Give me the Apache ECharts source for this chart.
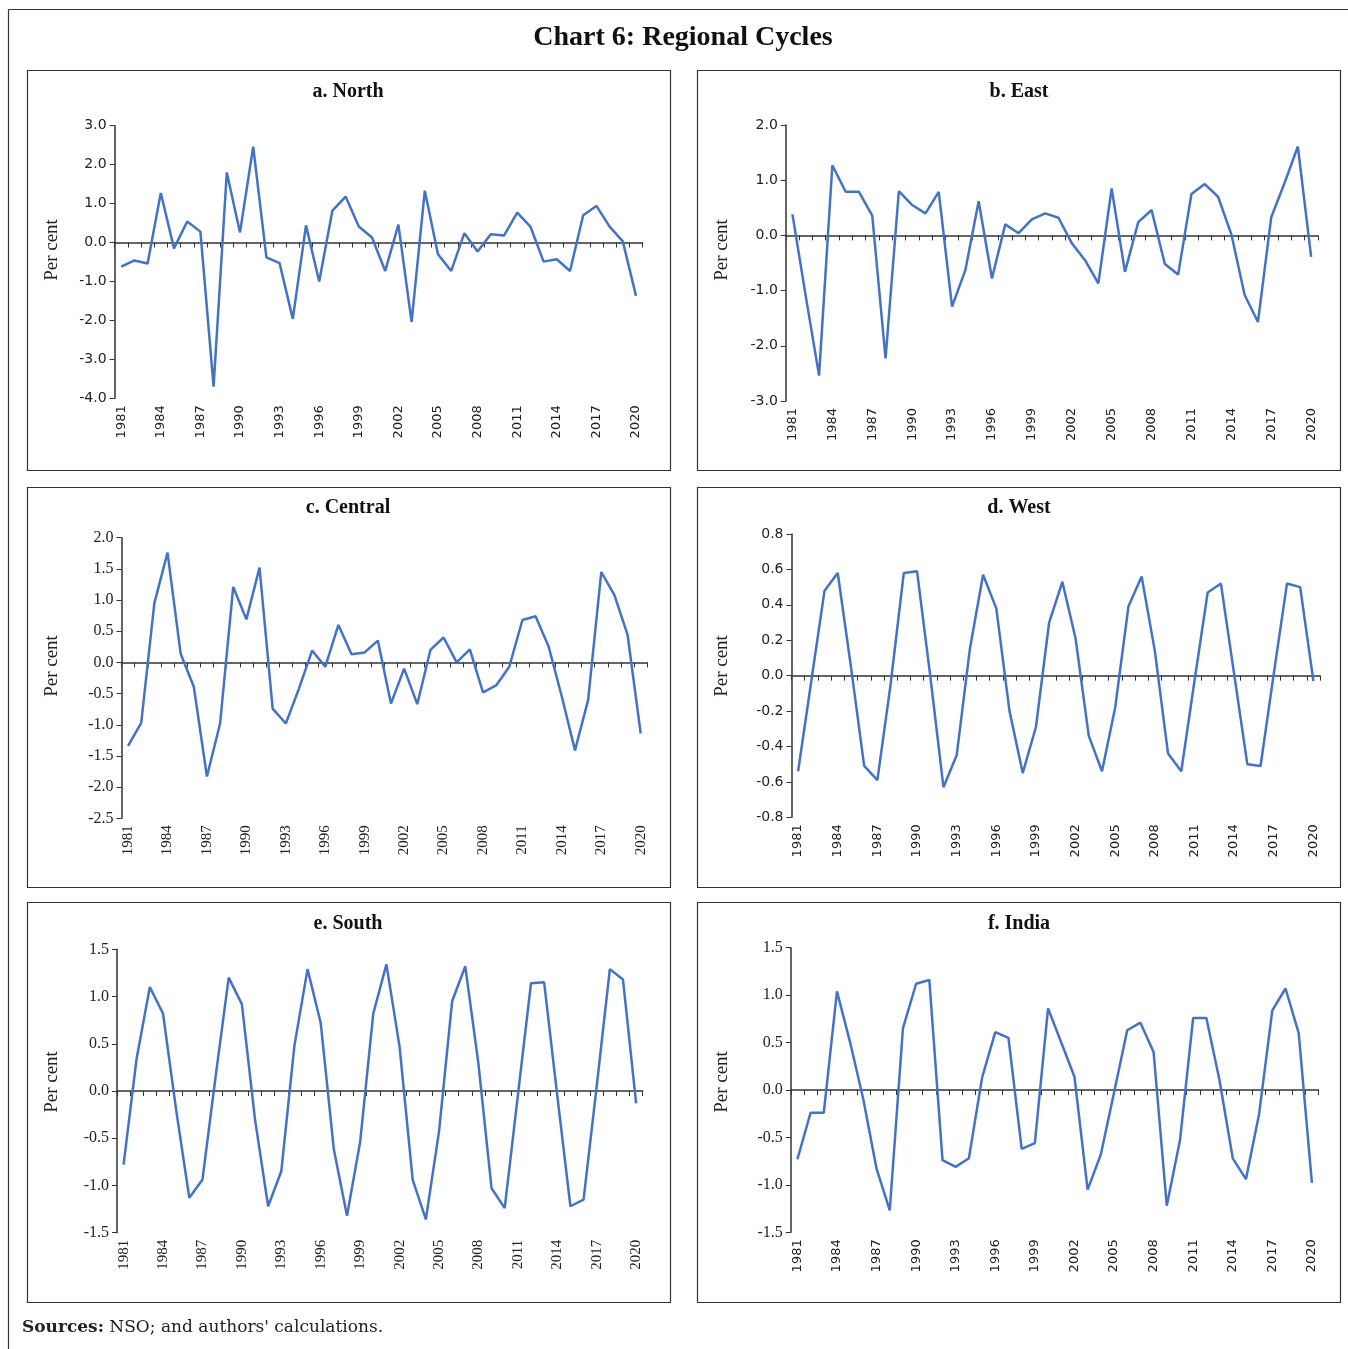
<!DOCTYPE html>
<html>
<head>
<meta charset="utf-8">
<script src="https://cdn.jsdelivr.net/npm/echarts@6/dist/echarts.min.js"></script>
<style>
  html, body { margin: 0; padding: 0; background: #fff; }
  #chart { width: 1348px; height: 1349px; }
</style>
</head>
<body>
<div id="chart"></div>
<script>
// ---------- DATA ----------
const years = [];
for (let y = 1981; y <= 2020; y++) years.push(String(y));

const north = [-0.62,-0.46,-0.54,1.27,-0.15,0.54,0.28,-3.70,1.80,0.26,
  2.46,-0.38,-0.53,-1.96,0.44,-1.00,0.82,1.18,0.41,0.13,
  -0.73,0.46,-2.04,1.33,-0.30,-0.73,0.24,-0.23,0.21,0.18,
  0.77,0.41,-0.49,-0.43,-0.73,0.70,0.94,0.41,0.03,-1.37];

const east = [0.38,-1.10,-2.54,1.27,0.79,0.79,0.36,-2.23,0.80,0.55,
  0.40,0.79,-1.29,-0.63,0.62,-0.78,0.20,0.04,0.29,0.40,
  0.32,-0.14,-0.45,-0.87,0.85,-0.66,0.24,0.46,-0.52,-0.71,
  0.75,0.93,0.70,0.02,-1.08,-1.57,0.33,0.95,1.61,-0.39];

const central = [-1.34,-0.97,0.95,1.76,0.14,-0.39,-1.83,-0.98,1.21,0.69,
  1.52,-0.74,-0.98,-0.42,0.19,-0.07,0.60,0.13,0.16,0.35,
  -0.66,-0.10,-0.67,0.20,0.40,0.00,0.21,-0.48,-0.37,-0.07,
  0.68,0.74,0.25,-0.55,-1.41,-0.60,1.45,1.08,0.44,-1.14];

const west = [-0.54,-0.03,0.48,0.58,0.05,-0.51,-0.59,-0.05,0.58,0.59,
  0.00,-0.63,-0.45,0.15,0.57,0.38,-0.20,-0.55,-0.29,0.30,
  0.53,0.21,-0.34,-0.54,-0.18,0.39,0.56,0.14,-0.44,-0.54,
  -0.03,0.47,0.52,0.01,-0.50,-0.51,0.01,0.52,0.50,-0.03];

const south = [-0.78,0.35,1.10,0.82,-0.20,-1.13,-0.94,0.15,1.20,0.92,
  -0.30,-1.22,-0.85,0.48,1.29,0.72,-0.62,-1.32,-0.54,0.82,
  1.34,0.47,-0.94,-1.36,-0.43,0.95,1.32,0.29,-1.03,-1.24,
  -0.05,1.14,1.15,-0.05,-1.22,-1.15,0.05,1.29,1.18,-0.13];

const india = [-0.73,-0.24,-0.24,1.04,0.50,-0.10,-0.83,-1.27,0.65,1.12,
  1.16,-0.74,-0.81,-0.72,0.13,0.61,0.55,-0.62,-0.56,0.86,
  0.50,0.14,-1.05,-0.68,-0.03,0.63,0.71,0.40,-1.22,-0.53,
  0.76,0.76,0.10,-0.72,-0.94,-0.25,0.84,1.07,0.60,-0.98];

const panelTitles = ['a. North','b. East','c. Central','d. West','e. South','f. India'];
const seriesData = [north, east, central, west, south, india];
const yMins = [-4, -3, -2.5, -0.8, -1.5, -1.5];
const yMaxs = [3, 2, 2, 0.8, 1.5, 1.5];
const yIntervals = [1, 1, 0.5, 0.2, 0.5, 0.5];

// ---------- LAYOUT ----------
const SANS = '"DejaVu Sans", Verdana, sans-serif';
const SERIF = '"Liberation Serif", "Times New Roman", serif';
const WSERIF = '"DejaVu Serif", "Liberation Serif", serif';
const grids = [
  {left:114.6, top:125.7, width:528, height:272.6},
  {left:785.8, top:125,   width:532, height:276},
  {left:121.5, top:537.7, width:525.8, height:280.6},
  {left:791.5, top:534,   width:528.5, height:283.3},
  {left:117,   top:949.3, width:525.7, height:283.4},
  {left:790.8, top:947.7, width:527.7, height:284.6}
];
const yFonts = [SANS, SANS, SERIF, SANS, SERIF, SERIF];
const xFonts = [SANS, SANS, SERIF, SANS, SERIF, SANS];
const boxes = [
  [27,70,643,400],[697,70,643,400],
  [27,487,643,400],[697,487,643,400],
  [27,902,643,400],[697,902,643,400]
];
const titlePos = [[348,92],[1019,92],[348,508],[1019,508],[348,924],[1019,924]];
const perCentPos = [[52,250],[722,250],[52,666],[722,666],[52,1082],[722,1082]];

const option = {
  animation: false,
  backgroundColor: '#fff',
  grid: grids.map(g => Object.assign({containLabel:false}, g)),
  xAxis: [],
  yAxis: [],
  series: [],
  graphic: []
};

for (let i = 0; i < 6; i++) {
  // zero-line axis with ticks
  option.xAxis.push({
    type: 'category', gridIndex: i, data: years, boundaryGap: true,
    position: 'bottom',
    axisLine: {show: true, onZero: true, lineStyle: {color: '#333', width: 1.5}},
    axisTick: {show: true, interval: 0, length: 5, inside: false, lineStyle: {color: '#333', width: 1}},
    axisLabel: {show: false},
    splitLine: {show: false}
  });
  // label axis at bottom
  option.xAxis.push({
    type: 'category', gridIndex: i, data: years, boundaryGap: true,
    position: 'bottom',
    axisLine: {show: false, onZero: false},
    axisTick: {show: false},
    axisLabel: {show: true, interval: 2, rotate: 90, margin: 7,
      fontFamily: xFonts[i], fontSize: xFonts[i] === SANS ? 13 : 15, color: '#222'},
    splitLine: {show: false}
  });
  option.yAxis.push({
    type: 'value', gridIndex: i, min: yMins[i], max: yMaxs[i], interval: yIntervals[i],
    axisLine: {show: true, lineStyle: {color: '#333', width: 1.5}},
    axisTick: {show: true, length: 5, lineStyle: {color: '#333'}},
    splitLine: {show: false},
    axisLabel: {fontFamily: yFonts[i], fontSize: yFonts[i] === SANS ? 14 : 16, color: '#222', margin: 8,
      formatter: v => Number(v).toFixed(1)}
  });
  option.series.push({
    type: 'line', xAxisIndex: 2 * i, yAxisIndex: i, data: seriesData[i],
    showSymbol: false, symbol: 'none',
    lineStyle: {color: '#4472C4', width: 2.5}
  });

  const b = boxes[i];
  option.graphic.push({
    type: 'rect', shape: {x: b[0] + 0.5, y: b[1] + 0.5, width: b[2], height: b[3]},
    style: {fill: 'none', stroke: '#333', lineWidth: 1.2}, silent: true
  });
  option.graphic.push({
    type: 'text', x: titlePos[i][0], y: titlePos[i][1],
    style: {text: panelTitles[i], font: 'bold 20px ' + SERIF, fill: '#111',
      textAlign: 'center', textVerticalAlign: 'middle'}
  });
  option.graphic.push({
    type: 'text', x: perCentPos[i][0], y: perCentPos[i][1], rotation: Math.PI / 2,
    style: {text: 'Per cent', font: '19px ' + SERIF, fill: '#222',
      textAlign: 'center', textVerticalAlign: 'middle'}
  });
}

// outer border (left + top)
option.graphic.push({type: 'line', shape: {x1: 8.5, y1: 9.5, x2: 1348, y2: 9.5},
  style: {stroke: '#333', lineWidth: 1.2}, silent: true});
option.graphic.push({type: 'line', shape: {x1: 8.5, y1: 9.5, x2: 8.5, y2: 1349},
  style: {stroke: '#333', lineWidth: 1.2}, silent: true});
// main title
option.graphic.push({type: 'text', x: 683, y: 38,
  style: {text: 'Chart 6: Regional Cycles', font: 'bold 28px ' + SERIF, fill: '#111',
    textAlign: 'center', textVerticalAlign: 'middle'}});
// sources
option.graphic.push({type: 'text', x: 22, y: 1328,
  style: {text: '{b|Sources:} NSO; and authors\' calculations.',
    font: '17px ' + WSERIF, fill: '#222', textVerticalAlign: 'middle',
    rich: {b: {font: 'bold 17px ' + WSERIF, fill: '#222'}}}});

const chart = echarts.init(document.getElementById('chart'), null, {renderer: 'canvas'});
chart.setOption(option);
</script>
</body>
</html>
